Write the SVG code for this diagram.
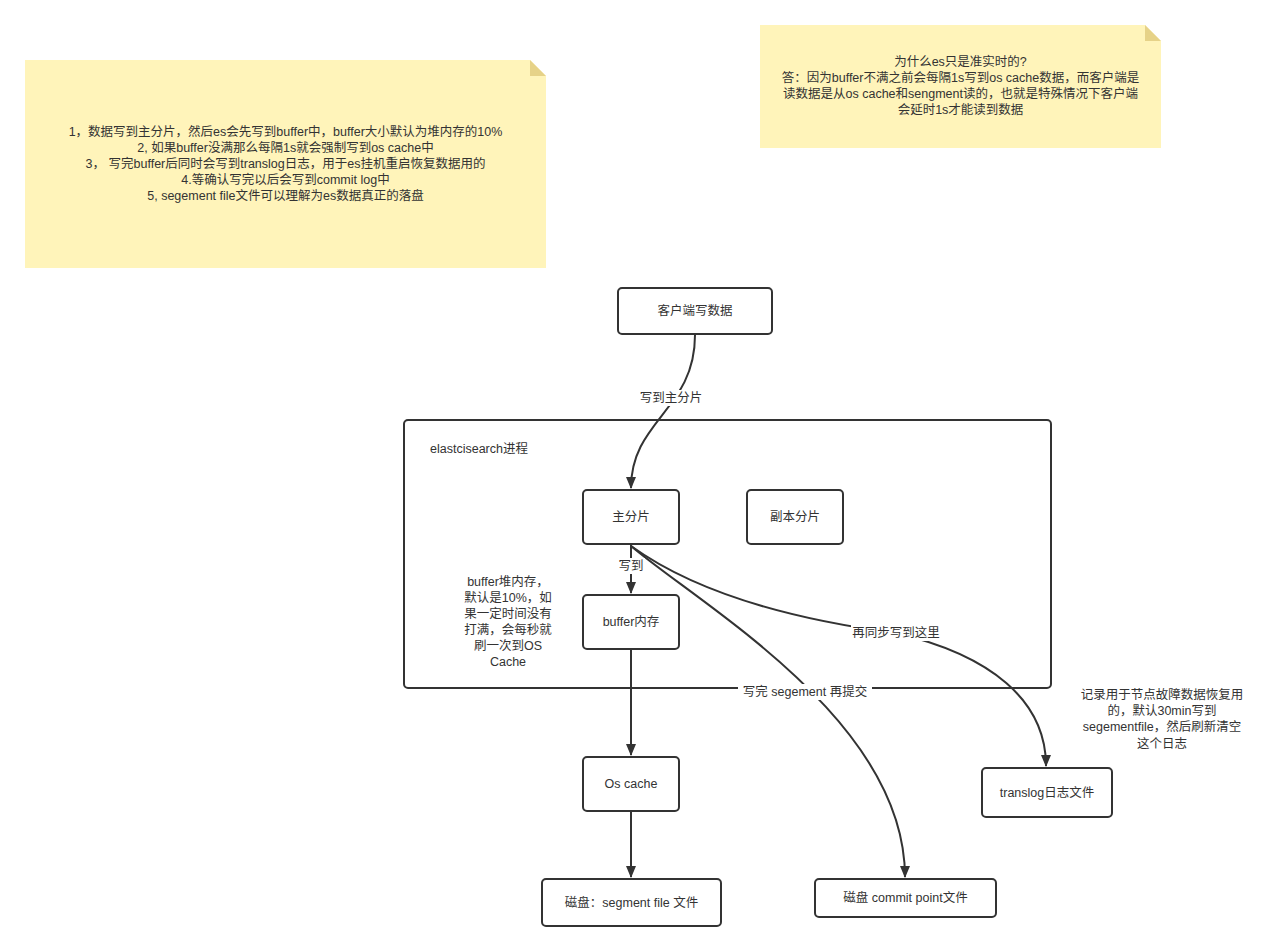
<svg xmlns="http://www.w3.org/2000/svg" width="1279" height="951" viewBox="0 0 1279 951">
<style>
text{font-family:"Liberation Sans","Noto Sans CJK SC",sans-serif;font-size:12.5px;fill:#333;}
.c{text-anchor:middle;dominant-baseline:central;}
.node{fill:#fff;stroke:#333;stroke-width:2;}
.edge{fill:none;stroke:#333;stroke-width:2;}
.note{fill:#fff4ba;}
.fold{fill:#e6d288;}
.lbg{fill:#fff;}
</style>
<defs>
<marker id="arr" markerWidth="12" markerHeight="12" viewBox="0 0 12 12" refX="11" refY="6" orient="auto" markerUnits="userSpaceOnUse">
<path d="M0,1 L12,6 L0,11 Z" fill="#333"/>
</marker>
</defs>
<rect width="1279" height="951" fill="#fff"/>

<g id="note1">
<path class="note" d="M25,60 H530 L546,76 V268 H25 Z"/>
<path class="fold" d="M530,60 L546,76 H530 Z"/>
<text class="c" x="285.5" y="132">1，数据写到主分片，然后es会先写到buffer中，buffer大小默认为堆内存的10%</text>
<text class="c" x="285.5" y="148">2, 如果buffer没满那么每隔1s就会强制写到os cache中</text>
<text class="c" x="285.5" y="164">3， 写完buffer后同时会写到translog日志，用于es挂机重启恢复数据用的</text>
<text class="c" x="285.5" y="180">4.等确认写完以后会写到commit log中</text>
<text class="c" x="285.5" y="196">5, segement file文件可以理解为es数据真正的落盘</text>
</g>

<g id="note2">
<path class="note" d="M760,25 H1145 L1161,41 V148 H760 Z"/>
<path class="fold" d="M1145,25 L1161,41 H1145 Z"/>
<text class="c" x="960.5" y="62">为什么es只是准实时的?</text>
<text class="c" x="960.5" y="78">答：因为buffer不满之前会每隔1s写到os cache数据，而客户端是</text>
<text class="c" x="960.5" y="94">读数据是从os cache和sengment读的，也就是特殊情况下客户端</text>
<text class="c" x="960.5" y="110">会延时1s才能读到数据</text>
</g>

<g id="es-process">
<rect class="node" x="404" y="420" width="647" height="268" rx="4"/>
<text x="430" y="449" dominant-baseline="central">elastcisearch进程</text>
</g>

<g id="client">
<rect class="node" x="618" y="288" width="154" height="46" rx="4"/>
<text class="c" x="695" y="311">客户端写数据</text>
</g>

<g id="primary">
<rect class="node" x="583" y="490" width="96" height="54" rx="4"/>
<text class="c" x="631" y="517">主分片</text>
</g>

<g id="replica">
<rect class="node" x="747" y="490" width="96" height="54" rx="4"/>
<text class="c" x="795" y="517">副本分片</text>
</g>

<g id="buffer">
<rect class="node" x="583" y="595" width="96" height="54" rx="4"/>
<text class="c" x="631" y="622">buffer内存</text>
</g>

<g id="buffer-note">
<text class="c" x="508" y="582">buffer堆内存，</text>
<text class="c" x="508" y="598">默认是10%，如</text>
<text class="c" x="508" y="614">果一定时间没有</text>
<text class="c" x="508" y="630">打满，会每秒就</text>
<text class="c" x="508" y="646">刷一次到OS</text>
<text class="c" x="508" y="662">Cache</text>
</g>

<g id="oscache">
<rect class="node" x="583" y="757" width="96" height="54" rx="4"/>
<text class="c" x="631" y="784">Os cache</text>
</g>

<g id="segment-disk">
<rect class="node" x="542" y="879" width="179" height="47" rx="4"/>
<text class="c" x="631.5" y="903">磁盘：segment file 文件</text>
</g>

<g id="commit-disk">
<rect class="node" x="815" y="879" width="181" height="38" rx="4"/>
<text class="c" x="905.5" y="898">磁盘 commit point文件</text>
</g>

<g id="translog">
<rect class="node" x="982" y="768" width="130" height="49" rx="4"/>
<text class="c" x="1047" y="793">translog日志文件</text>
</g>

<g id="translog-note">
<text class="c" x="1162" y="695">记录用于节点故障数据恢复用</text>
<text class="c" x="1162" y="711">的，默认30min写到</text>
<text class="c" x="1162" y="727">segementfile，然后刷新清空</text>
<text class="c" x="1162" y="744">这个日志</text>
</g>

<g id="connectors">
<path class="edge" d="M695,335 C695,410 631,420 631,488" marker-end="url(#arr)"/>
<path class="edge" d="M631,545 V593" marker-end="url(#arr)"/>
<path class="edge" d="M631,650 V755" marker-end="url(#arr)"/>
<path class="edge" d="M631,812 V877" marker-end="url(#arr)"/>
<path class="edge" d="M631,546 C700,605 905,720 905,877" marker-end="url(#arr)"/>
<path class="edge" d="M631,546 Q720,610 896,633 C990,655 1046,700 1046,766" marker-end="url(#arr)"/>
<rect class="lbg" x="639" y="390" width="64" height="16"/>
<text class="c" x="671" y="398">写到主分片</text>
<rect class="lbg" x="617" y="558" width="28" height="16"/>
<text class="c" x="631" y="566">写到</text>
<rect class="lbg" x="851" y="625" width="90" height="16"/>
<text class="c" x="896" y="633">再同步写到这里</text>
<rect class="lbg" x="738" y="684" width="134" height="16"/>
<text class="c" x="805" y="692">写完 segement 再提交</text>
</g>
</svg>
